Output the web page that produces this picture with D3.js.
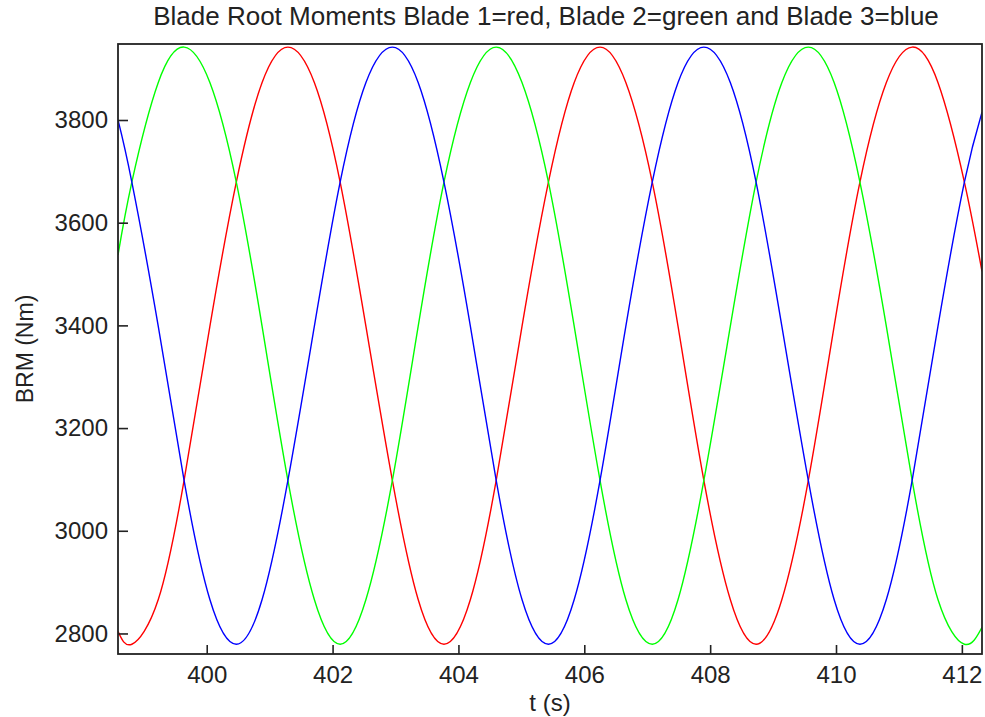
<!DOCTYPE html>
<html>
<head>
<meta charset="utf-8">
<script src="https://cdn.jsdelivr.net/npm/d3@7"></script>
<style>
  body { margin: 0; background: #fff; }
  svg { display: block; font-family: "Liberation Sans", Arial, sans-serif; }
</style>
</head>
<body>
<div class="container"></div>
<script>
// blade root moments (s, Nm)
var times = [398.59, 398.81, 399.23, 399.64, 400.05, 400.47, 400.88, 401.29, 401.71, 402.12,
             402.53, 402.95, 403.36, 403.77, 404.19, 404.60, 405.01, 405.43, 405.84, 406.25,
             406.66, 407.08, 407.49, 407.90, 408.32, 408.73, 409.14, 409.56, 409.97, 410.38,
             410.80, 411.21, 411.62, 412.04, 412.32];

var blade1 = [2804, 2779, 2866, 3098, 3398, 3679, 3873, 3942, 3873, 3679,
              3398, 3098, 2866, 2779, 2866, 3098, 3398, 3679, 3873, 3942,
              3873, 3679, 3398, 3098, 2866, 2779, 2866, 3098, 3398, 3679,
              3873, 3942, 3873, 3679, 3505];

var blade2 = [3537, 3679, 3873, 3942, 3873, 3679, 3398, 3098, 2866, 2779,
              2866, 3098, 3398, 3679, 3873, 3942, 3873, 3679, 3398, 3098,
              2866, 2779, 2866, 3098, 3398, 3679, 3873, 3942, 3873, 3679,
              3398, 3098, 2866, 2779, 2812];

var blade3 = [3800, 3679, 3398, 3098, 2866, 2779, 2866, 3098, 3398, 3679,
              3873, 3942, 3873, 3679, 3398, 3098, 2866, 2779, 2866, 3098,
              3398, 3679, 3873, 3942, 3873, 3679, 3398, 3098, 2866, 2779,
              2866, 3098, 3398, 3679, 3815];

var xTicks = [400, 402, 404, 406, 408, 410, 412];
var yTicks = [2800, 3000, 3200, 3400, 3600, 3800];

var width = 985;
var height = 717;
// "top" is taken by window.top, so plot edges get their own names
var plotL = 118, plotR = 982, plotT = 44, plotB = 654;

var svg = d3.select(".container").append("svg")
    .attr("width", width)
    .attr("height", height);

var x = d3.scaleLinear().domain([398.59, 412.32]).range([plotL, plotR]);
var y = d3.scaleLinear().domain([2760, 3948]).range([plotB, plotT]);

svg.append("clipPath").attr("id", "plot")
  .append("rect")
    .attr("x", plotL).attr("y", plotT)
    .attr("width", plotR - plotL).attr("height", plotB - plotT);

var line = d3.line()
    .x(function (d) { return x(d.t); })
    .y(function (d) { return y(d.v); })
    .curve(d3.curveNatural);

var series = [
  { values: blade1, color: "#ff0000" },
  { values: blade2, color: "#00ff00" },
  { values: blade3, color: "#0000ff" }
];

svg.append("g").attr("clip-path", "url(#plot)")
  .selectAll("path").data(series)
  .enter().append("path")
    .attr("d", function (s) {
      return line(times.map(function (t, i) { return { t: t, v: s.values[i] }; }));
    })
    .attr("fill", "none")
    .attr("stroke", function (s) { return s.color; })
    .attr("stroke-width", 1.4);

// axes: ticks point inward, frame drawn separately
var xAxis = svg.append("g")
    .attr("transform", "translate(0," + plotB + ")")
    .call(d3.axisBottom(x).tickValues(xTicks).tickFormat(d3.format("d"))
      .tickSizeInner(-9).tickSizeOuter(0).tickPadding(12));
var yAxis = svg.append("g")
    .attr("transform", "translate(" + plotL + ",0)")
    .call(d3.axisLeft(y).tickValues(yTicks).tickFormat(d3.format("d"))
      .tickSizeInner(-10).tickSizeOuter(0).tickPadding(10));

[xAxis, yAxis].forEach(function (g) {
  g.select(".domain").remove();
  g.selectAll(".tick line").attr("stroke", "#222").attr("stroke-width", 1.6);
  g.selectAll(".tick text").attr("fill", "#222").attr("font-size", 24)
    .attr("font-family", "Liberation Sans, Arial, sans-serif");
});

svg.append("rect")
    .attr("x", plotL).attr("y", plotT)
    .attr("width", plotR - plotL).attr("height", plotB - plotT)
    .attr("fill", "none")
    .attr("stroke", "#222")
    .attr("stroke-width", 1.8);

svg.append("text")
    .attr("x", (plotL + plotR) / 2 - 4).attr("y", 25)
    .attr("text-anchor", "middle")
    .attr("font-size", 26)
    .attr("fill", "#222")
    .text("Blade Root Moments Blade 1=red, Blade 2=green and Blade 3=blue");

svg.append("text")
    .attr("x", (plotL + plotR) / 2).attr("y", 711)
    .attr("text-anchor", "middle")
    .attr("font-size", 24)
    .attr("fill", "#222")
    .text("t (s)");

svg.append("text")
    .attr("transform", "translate(33," + (plotT + plotB) / 2 + ") rotate(-90)")
    .attr("text-anchor", "middle")
    .attr("font-size", 23)
    .attr("fill", "#222")
    .text("BRM (Nm)");
</script>
</body>
</html>
